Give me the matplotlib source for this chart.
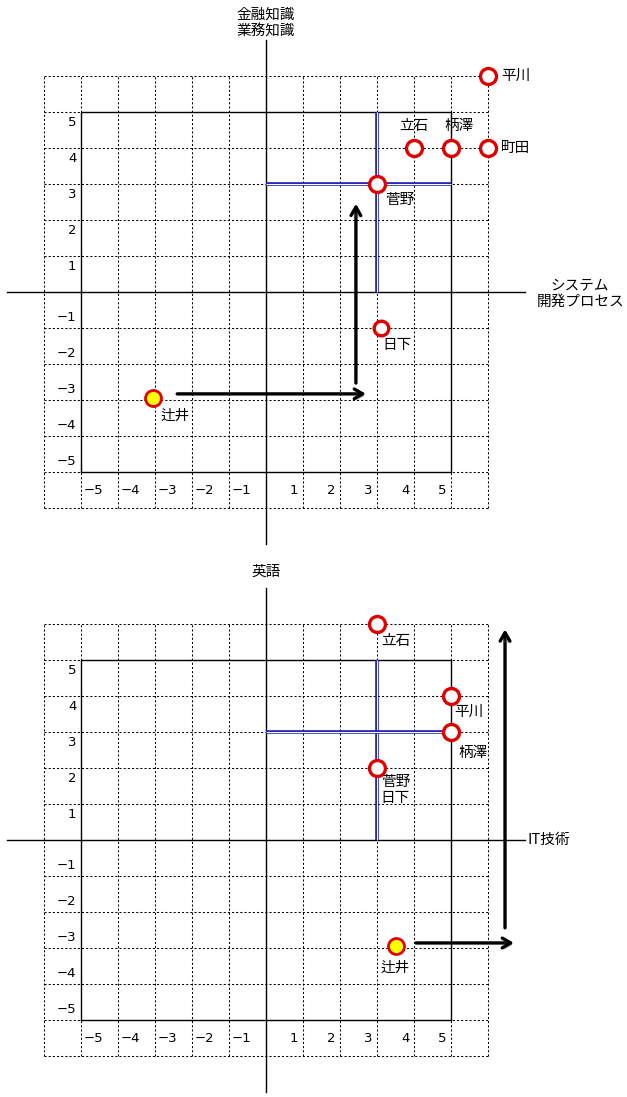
import matplotlib.pyplot as plt
import matplotlib.patheffects as pe

plt.rcParams['font.family'] = ['Noto Sans CJK JP', 'DejaVu Sans']

# --- data ---
ticks = [-5, -4, -3, -2, -1, 1, 2, 3, 4, 5]

top_names = ['平川', '立石', '柄澤', '町田', '菅野', '日下', '辻井']
top_x = [6, 4, 5, 6, 3, 3.1, -3.05]
top_y = [6, 4, 4, 4, 3, -1, -2.95]
top_xlabel = 'システム\n開発プロセス'
top_ylabel = '金融知識\n業務知識'

bot_names = ['立石', '平川', '柄澤', '菅野\n日下', '辻井']
bot_x = [3, 5, 5, 3, 3.5]
bot_y = [6, 4, 3, 2, -2.95]
bot_xlabel = 'IT技術'
bot_ylabel = '英語'

# label placement (dx, dy, ha)
top_lbl = {'平川': (0.36, 0, 'left'), '立石': (0, 0.6, 'center'), '柄澤': (0.22, 0.6, 'center'),
           '町田': (0.36, 0, 'left'), '菅野': (0.22, -0.44, 'left'), '日下': (0.04, -0.46, 'left'),
           '辻井': (0.2, -0.5, 'left')}
bot_lbl = {'立石': (0.12, -0.47, 'left'), '平川': (0.1, -0.44, 'left'), '柄澤': (0.2, -0.58, 'left'),
           '菅野\n日下': (0.1, -0.62, 'left'), '辻井': (0, -0.6, 'center')}

W, H = 627, 1097
fig = plt.figure(figsize=(W / 100, H / 100), dpi=100)
UX, UY = 37.0, 36.0


def make_ax(top_px, bot_px, cy):
    ax = fig.add_axes([0, 1 - bot_px / H, 1, (bot_px - top_px) / H])
    ax.set_xlim(-266 / UX, (W - 266) / UX)
    ax.set_ylim(-(bot_px - cy) / UY, (cy - top_px) / UY)
    ax.axis('off')
    return ax


def panel(ax, names, xs, ys, lbl, xlab, ylab, harrow, varrow, xlab_pos, ylab_pos, xlab_ha):
    dash = (0, (2, 2))
    for v in range(-6, 7):
        ax.plot([v, v], [-6, 6], color='black', lw=0.75, ls=dash, zorder=1)
        ax.plot([-6, 6], [v, v], color='black', lw=0.75, ls=dash, zorder=1)
    ax.plot([-5, 5, 5, -5, -5], [-5, -5, 5, 5, -5], color='black', lw=1, zorder=2)
    ax.plot([-7, 7], [0, 0], color='black', lw=1, zorder=2)
    ax.plot([0, 0], [-7, 7], color='black', lw=1, zorder=2)
    # blue double lines
    for xx, yy in (([3, 3], [0, 5]), ([0, 5], [3, 3])):
        ax.plot(xx, yy, color='#1c1cb0', lw=2.6, zorder=3, solid_capstyle='butt')
        ax.plot(xx, yy, color='white', lw=0.8, zorder=3, solid_capstyle='butt')
    # tick labels
    for t in ticks:
        ax.text(t - 0.12 if t > 0 else t + 0.06, -5.5, f'{t}'.replace('-', '−'),
                ha='right' if t > 0 else 'left', va='center', fontsize=9.5, family='DejaVu Sans')
        ax.text(-5.12, t - 0.3 if t > 0 else t + 0.3, f'{t}'.replace('-', '−'),
                ha='right', va='center', fontsize=9.5, family='DejaVu Sans')
    # points
    for n, x, y in zip(names, xs, ys):
        face = '#ffff00' if n == '辻井' else 'white'
        ms = 11.5 if n != '日下' else 10.5
        ax.plot(x, y, 'o', ms=ms, mfc=face, mec='#e00000', mew=2.4 if face == 'white' else 2.0, zorder=5)
        dx, dy, ha = lbl[n]
        ax.text(x + dx, y + dy, n, ha=ha, va='center', fontsize=10.5, linespacing=1.2, zorder=6)
    # arrows
    shadow = [pe.SimplePatchShadow(offset=(1.5, -1.5), alpha=0.35), pe.Normal()]
    for (x0, y0, x1, y1) in (harrow, varrow):
        ax.annotate('', xy=(x1, y1), xytext=(x0, y0), zorder=4,
                    arrowprops=dict(arrowstyle='->,head_length=0.6,head_width=0.35', lw=2.4,
                                    color='black', shrinkA=0, shrinkB=0, path_effects=shadow))
    ax.text(xlab_pos[0], xlab_pos[1], xlab, ha=xlab_ha, va='center', fontsize=10.5, linespacing=1.25)
    ax.text(ylab_pos[0], ylab_pos[1], ylab, ha='center', va='center', fontsize=10.5, linespacing=1.25)


ax1 = make_ax(0, 548, 292)
panel(ax1, top_names, top_x, top_y, top_lbl, top_xlabel, top_ylabel,
      (-2.4, -2.83, 2.7, -2.83), (2.43, -2.53, 2.43, 2.45), (8.49, -0.05), (0, 7.47), 'center')

ax2 = make_ax(548, H, 840)
panel(ax2, bot_names, bot_x, bot_y, bot_lbl, bot_xlabel, bot_ylabel,
      (4.05, -2.86, 6.7, -2.86), (6.46, -2.44, 6.46, 5.85), (7.08, 0), (0, 7.44), 'left')

fig.savefig('out.png', dpi=100)
